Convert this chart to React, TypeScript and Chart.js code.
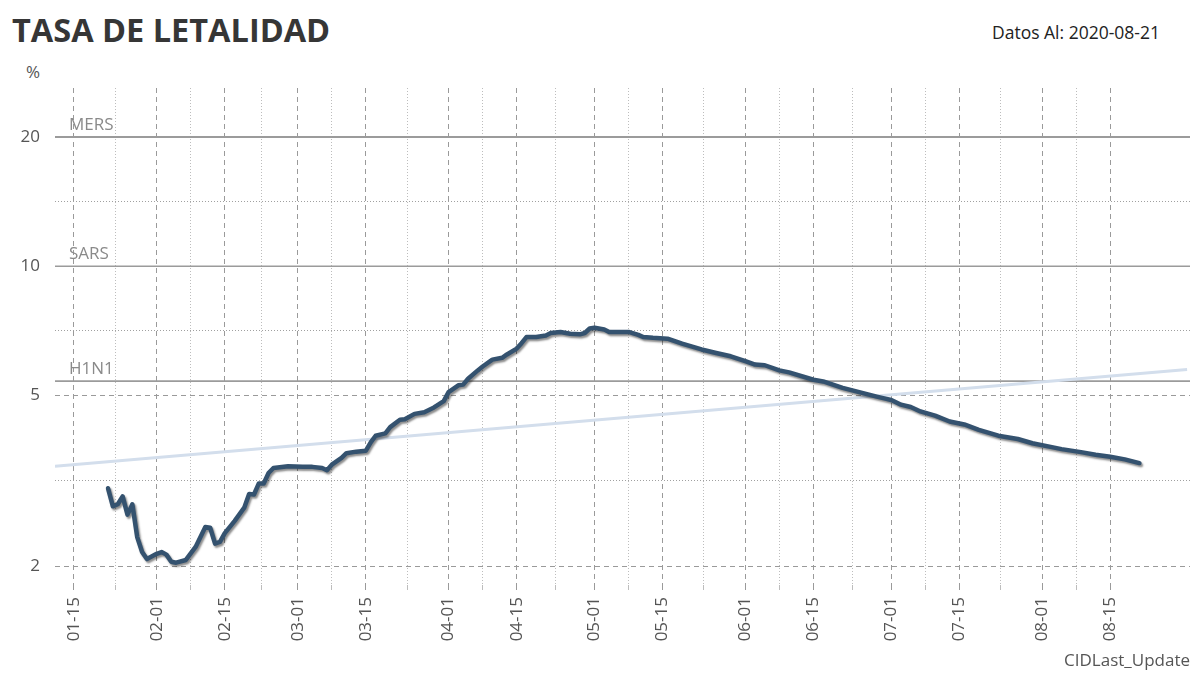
import React, { useEffect, useRef } from "react";
import { Chart, registerables } from "chart.js";

Chart.register(...registerables);

const FONT = "'Open Sans', 'Noto Sans', sans-serif";

// Main series: CFR (%) by date (MM-DD, 2020)
const DATES = ["01-22","01-23","01-24","01-25","01-26","01-27","01-28","01-29","01-30","02-01","02-02","02-03","02-04","02-05","02-07","02-09","02-11","02-12","02-13","02-14","02-15","02-17","02-19","02-20","02-21","02-22","02-23","02-24","02-25","02-28","03-02","03-04","03-06","03-07","03-08","03-10","03-11","03-13","03-15","03-16","03-17","03-19","03-20","03-22","03-23","03-25","03-27","03-29","03-31","04-01","04-03","04-04","04-05","04-07","04-08","04-10","04-12","04-13","04-15","04-16","04-17","04-19","04-21","04-22","04-24","04-26","04-28","04-29","04-30","05-01","05-03","05-04","05-08","05-10","05-11","05-13","05-16","05-19","05-23","05-26","05-29","06-01","06-03","06-05","06-08","06-10","06-15","06-17","06-21","06-25","06-28","06-30","07-01","07-03","07-05","07-07","07-10","07-13","07-16","07-19","07-23","07-27","07-30","08-03","08-05","08-09","08-12","08-15","08-18","08-21"];
const VALUES = [3.04,2.76,2.79,2.91,2.64,2.79,2.34,2.16,2.08,2.14,2.16,2.13,2.05,2.04,2.07,2.22,2.47,2.46,2.26,2.28,2.39,2.55,2.74,2.95,2.94,3.12,3.12,3.30,3.39,3.42,3.41,3.41,3.39,3.35,3.45,3.58,3.67,3.70,3.72,3.89,4.03,4.08,4.22,4.39,4.40,4.53,4.57,4.69,4.85,5.09,5.28,5.30,5.47,5.72,5.84,6.06,6.12,6.23,6.43,6.62,6.84,6.84,6.90,6.99,7.03,6.96,6.94,6.99,7.16,7.19,7.12,7.03,7.03,6.92,6.84,6.81,6.78,6.60,6.40,6.28,6.17,6.01,5.90,5.88,5.72,5.66,5.44,5.39,5.21,5.07,4.97,4.91,4.88,4.76,4.70,4.59,4.49,4.35,4.28,4.16,4.03,3.96,3.87,3.79,3.75,3.69,3.64,3.60,3.55,3.48];

// Trend line (day of year, value)
const TREND_DAYS = [11.1, 243.8];
const TREND_VALUES = [3.42, 5.75];

// Reference lines
const REF_NAMES = ["MERS", "SARS", "H1N1"];
const REF_VALUES = [20, 10, 5.4];

// Axes
const X_TICK_LABELS = ["01-15","02-01","02-15","03-01","03-15","04-01","04-15","05-01","05-15","06-01","06-15","07-01","07-15","08-01","08-15"];
const X_RANGE = [11.1, 244.4];
const Y_TICKS = [2, 5, 10, 20];
const Y_RANGE = [1.81, 26];

const CUM_DAYS = [0, 31, 60, 91, 121, 152, 182, 213, 244, 274, 305, 335];
const doy = (md: string) => {
  const [m, d] = md.split("-").map(Number);
  return CUM_DAYS[m - 1] + d;
};

export default function App() {
  const ref = useRef<HTMLCanvasElement | null>(null);

  useEffect(() => {
    if (!ref.current) return;
    const majorX = X_TICK_LABELS.map(doy);
    const minorX: number[] = [];
    for (let i = 0; i < majorX.length - 1; i++) minorX.push((majorX[i] + majorX[i + 1]) / 2);
    const allX = [...majorX, ...minorX].sort((a, b) => a - b);
    const labelMap = new Map<number, string>();
    majorX.forEach((v, i) => labelMap.set(v, X_TICK_LABELS[i]));
    const isMajorX = (v: number) => labelMap.has(v);

    const minorY: number[] = [];
    for (let i = 0; i < Y_TICKS.length - 1; i++) minorY.push(Math.sqrt(Y_TICKS[i] * Y_TICKS[i + 1]));
    const allY = [...Y_TICKS, ...minorY].sort((a, b) => a - b);
    const isMajorY = (v: number) => Y_TICKS.some((t) => Math.abs(t - v) < 1e-9);

    const refLines = {
      id: "refLines",
      beforeDatasetsDraw(chart: any) {
        const { ctx, chartArea, scales } = chart;
        ctx.save();
        REF_VALUES.forEach((v, i) => {
          const y = scales.y.getPixelForValue(v);
          ctx.strokeStyle = "#9b9b9b";
          ctx.lineWidth = i === 0 ? 2 : 1.6;
          ctx.setLineDash([]);
          ctx.beginPath();
          ctx.moveTo(chartArea.left, y);
          ctx.lineTo(chartArea.right, y);
          ctx.stroke();
          ctx.fillStyle = "#8a8a8a";
          ctx.font = `17px ${FONT}`;
          ctx.textAlign = "left";
          ctx.textBaseline = "alphabetic";
          ctx.fillText(REF_NAMES[i], chartArea.left + 14, y - 7);
        });
        ctx.restore();
      },
    };

    const shadow = {
      id: "lineShadow",
      beforeDatasetDraw(chart: any, args: any) {
        if (args.index === 0) {
          const ctx = chart.ctx;
          ctx.save();
          ctx.shadowColor = "rgba(0,0,0,0.45)";
          ctx.shadowBlur = 2;
          ctx.shadowOffsetX = 1.5;
          ctx.shadowOffsetY = 2;
        }
      },
      afterDatasetDraw(chart: any, args: any) {
        if (args.index === 0) chart.ctx.restore();
      },
    };

    const chart = new Chart(ref.current, {
      type: "line",
      data: {
        datasets: [
          {
            data: DATES.map((d, i) => ({ x: doy(d), y: VALUES[i] })),
            borderColor: "#34526f",
            borderWidth: 4.5,
            pointRadius: 0,
            tension: 0,
            fill: false,
            borderJoinStyle: "round",
            borderCapStyle: "round",
          },
          {
            data: TREND_DAYS.map((d, i) => ({ x: d, y: TREND_VALUES[i] })),
            borderColor: "#d3deec",
            borderWidth: 3,
            pointRadius: 0,
            fill: false,
          },
        ],
      },
      options: {
        animation: false,
        responsive: true,
        maintainAspectRatio: false,
        layout: { padding: { left: 0, right: 10, top: 88, bottom: 0 } },
        plugins: {
          legend: { display: false },
          tooltip: { enabled: false },
          title: { display: false },
        },
        scales: {
          x: {
            type: "linear",
            min: X_RANGE[0],
            max: X_RANGE[1],
            afterBuildTicks: (s: any) => {
              s.ticks = allX.map((v) => ({ value: v }));
            },
            afterFit: (s: any) => {
              s.height = 91;
            },
            ticks: {
              autoSkip: false,
              minRotation: 90,
              maxRotation: 90,
              padding: 7,
              color: "#555",
              font: { family: FONT, size: 17 },
              callback: (v: any) => labelMap.get(v) || "",
            },
            grid: {
              color: (c: any) => (c.tick && isMajorX(c.tick.value) ? "#9a9a9a" : "#bdbdbd"),
              lineWidth: 1,
              drawTicks: true,
              tickLength: 5,
            },
            border: {
              display: false,
              dash: (c: any) => (c.tick && isMajorX(c.tick.value) ? [5, 4] : [1, 2]),
            },
            title: {
              display: true,
              text: "CIDLast_Update",
              align: "end",
              color: "#555",
              font: { family: FONT, size: 17 },
              padding: { top: 0, bottom: 5 },
            },
          },
          y: {
            type: "logarithmic",
            min: Y_RANGE[0],
            max: Y_RANGE[1],
            afterBuildTicks: (s: any) => {
              s.ticks = allY.map((v) => ({ value: v }));
            },
            afterFit: (s: any) => {
              s.width = 55;
            },
            ticks: {
              autoSkip: false,
              padding: 15,
              color: "#555",
              font: { family: FONT, size: 17 },
              callback: (v: any) => (isMajorY(v) ? String(v) : ""),
            },
            grid: {
              color: (c: any) => (c.tick && isMajorY(c.tick.value) ? "#9a9a9a" : "#a0a0a0"),
              lineWidth: 1,
              drawTicks: false,
            },
            border: {
              display: false,
              dash: (c: any) => (c.tick && isMajorY(c.tick.value) ? [5, 4] : [1, 2]),
            },
          },
        },
      },
      plugins: [refLines, shadow],
    });
    return () => chart.destroy();
  }, []);

  return (
    <div style={{ position: "fixed", left: 0, top: 0, width: 1200, height: 676, background: "#fff", fontFamily: FONT }}>
      <div style={{ position: "absolute", left: 12, top: 8, fontSize: 32.5, fontWeight: 700, color: "#363636", lineHeight: "44px" }}>
        TASA DE LETALIDAD
      </div>
      <div style={{ position: "absolute", right: 40, top: 20, fontSize: 17.5, color: "#222", lineHeight: "24px" }}>
        Datos Al: 2020-08-21
      </div>
      <div style={{ position: "absolute", left: 26, top: 61, fontSize: 17, color: "#555", lineHeight: "22px" }}>%</div>
      <canvas ref={ref} style={{ position: "absolute", left: 0, top: 0, width: 1200, height: 676 }} />
    </div>
  );
}
